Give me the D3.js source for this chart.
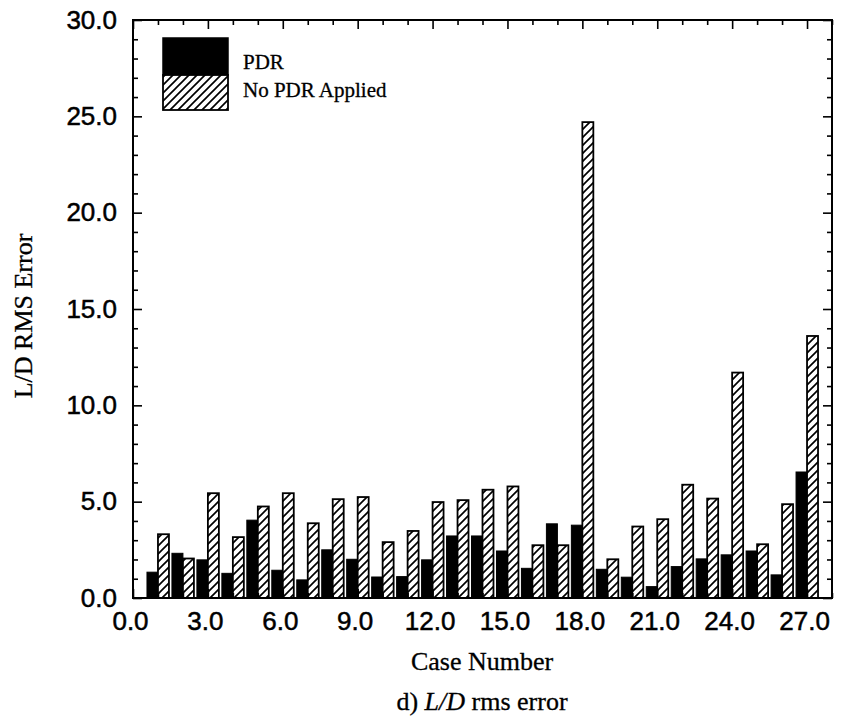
<!DOCTYPE html>
<html>
<head>
<meta charset="utf-8">
<script src="https://cdn.jsdelivr.net/npm/d3@7"></script>
<style>
  html, body { margin: 0; padding: 0; background: #fff; }
  svg { display: block; }
</style>
</head>
<body>
<svg id="chart" width="841" height="721"></svg>
<script>
// ---- data ----
const cases = [1,2,3,4,5,6,7,8,9,10,11,12,13,14,15,16,17,18,19,20,21,22,23,24,25,26,27];
const pdr = [1.34,2.32,1.98,1.28,4.04,1.44,0.94,2.50,2.01,1.09,1.11,1.98,3.22,3.22,2.44,1.54,3.85,3.78,1.49,1.08,0.59,1.63,2.03,2.24,2.44,1.20,6.54];
const noPdr = [3.31,2.05,5.44,3.16,4.75,5.44,3.88,5.13,5.24,2.90,3.48,4.98,5.08,5.62,5.79,2.74,2.74,24.7,2.01,3.71,4.09,5.88,5.16,11.7,2.79,4.87,13.6];
const xTicks = [0,3,6,9,12,15,18,21,24,27];
const yTicks = [0,5,10,15,20,25,30];
const seriesNames = ["PDR", "No PDR Applied"];

// ---- layout ----
const svg = d3.select("#chart");
const L = 133, R = 832, T = 20, B = 598;
const x = d3.scaleLinear().domain([0, 28]).range([L, R]);
const y = d3.scaleLinear().domain([0, 30]).range([B, T]);

const defs = svg.append("defs");
const pat = defs.append("pattern")
  .attr("id", "hatch").attr("patternUnits", "userSpaceOnUse")
  .attr("width", 8).attr("height", 8);
pat.append("rect").attr("width", 8).attr("height", 8).attr("fill", "#fff");
pat.append("path").attr("d", "M-2,2 L2,-2 M0,8 L8,0 M6,10 L10,6")
  .attr("stroke", "#000").attr("stroke-width", 1.7);

const bw = 0.44;
const g = svg.append("g");
// black bars
g.selectAll("rect.pdr").data(cases).join("rect")
  .attr("class", "pdr")
  .attr("x", (d) => x(d - bw))
  .attr("width", x(bw) - x(0))
  .attr("y", (d, i) => y(pdr[i]))
  .attr("height", (d, i) => y(0) - y(pdr[i]))
  .attr("fill", "#000").attr("stroke", "#000").attr("stroke-width", 1);
// hatched bars
g.selectAll("rect.nopdr").data(cases).join("rect")
  .attr("class", "nopdr")
  .attr("x", (d) => x(d))
  .attr("width", x(bw) - x(0))
  .attr("y", (d, i) => y(noPdr[i]))
  .attr("height", (d, i) => y(0) - y(noPdr[i]))
  .attr("fill", "url(#hatch)").attr("stroke", "#000").attr("stroke-width", 1.8);

// axes with inward ticks on all sides
const minorX = d3.range(0, 29, 1).filter(v => v % 3 !== 0);
const minorY = d3.range(0, 31, 1).filter(v => v % 5 !== 0);
const tickStyle = sel => sel.selectAll("line").attr("stroke", "#000").attr("stroke-width", 1.6);

function axisPair(axisFn, scale, values, size, transform, labels) {
  const a = axisFn(scale).tickValues(values).tickSizeInner(size).tickSizeOuter(0);
  if (labels) a.tickFormat(d3.format(".1f")).tickPadding(10 - size);
  else a.tickFormat("");
  const ax = svg.append("g").attr("transform", transform).call(a);
  ax.select(".domain").remove();
  tickStyle(ax);
  return ax;
}
// bottom
const bx = axisPair(d3.axisBottom, x, xTicks, -9, `translate(0,${B})`, true);
axisPair(d3.axisBottom, x, minorX, -5, `translate(0,${B})`, false);
// top
axisPair(d3.axisTop, x, xTicks, -9, `translate(0,${T})`, false);
axisPair(d3.axisTop, x, minorX, -5, `translate(0,${T})`, false);
// left
const ly = axisPair(d3.axisLeft, y, yTicks, -9, `translate(${L},0)`, true);
axisPair(d3.axisLeft, y, minorY, -5, `translate(${L},0)`, false);
// right
axisPair(d3.axisRight, y, yTicks, -9, `translate(${R},0)`, false);
axisPair(d3.axisRight, y, minorY, -5, `translate(${R},0)`, false);

const styleTick = sel => sel.attr("font-family", "Liberation Sans, Arial, sans-serif")
  .attr("font-size", 26).attr("fill", "#000").attr("stroke", "#000").attr("stroke-width", 0.5);
styleTick(bx.selectAll("text")).attr("dx", -3).attr("dy", "0.75em").attr("y", 12);
styleTick(ly.selectAll("text")).attr("x", -16);

// frame
svg.append("rect").attr("x", L).attr("y", T).attr("width", R - L).attr("height", B - T)
  .attr("fill", "none").attr("stroke", "#000").attr("stroke-width", 2);

// legend
const leg = svg.append("g");
leg.append("rect").attr("x", 163).attr("y", 38).attr("width", 65).attr("height", 37)
  .attr("fill", "#000").attr("stroke", "#000").attr("stroke-width", 1.5);
leg.append("rect").attr("x", 163).attr("y", 75).attr("width", 65).attr("height", 35)
  .attr("fill", "url(#hatch)").attr("stroke", "#000").attr("stroke-width", 1.8);
leg.selectAll("text").data(seriesNames).join("text")
  .attr("x", 243).attr("y", (d, i) => 69 + i * 28)
  .attr("font-family", "Liberation Serif, Times New Roman, serif")
  .attr("font-size", 21).attr("fill", "#000").attr("stroke", "#000").attr("stroke-width", 0.3)
  .text(d => d);

// axis titles
const serif = sel => sel.attr("font-family", "Liberation Serif, serif").attr("font-size", 26)
  .attr("fill", "#000").attr("stroke", "#000").attr("stroke-width", 0.3);
serif(svg.append("text").attr("transform", "translate(32,316) rotate(-90)")
  .attr("text-anchor", "middle")).text("L/D RMS Error");
serif(svg.append("text").attr("x", 482).attr("y", 670)
  .attr("text-anchor", "middle")).text("Case Number");
const cap = serif(svg.append("text").attr("x", 482).attr("y", 710)
  .attr("text-anchor", "middle"));
cap.append("tspan").text("d) ");
cap.append("tspan").attr("font-style", "italic").text("L/D");
cap.append("tspan").text(" rms error");
</script>
</body>
</html>
